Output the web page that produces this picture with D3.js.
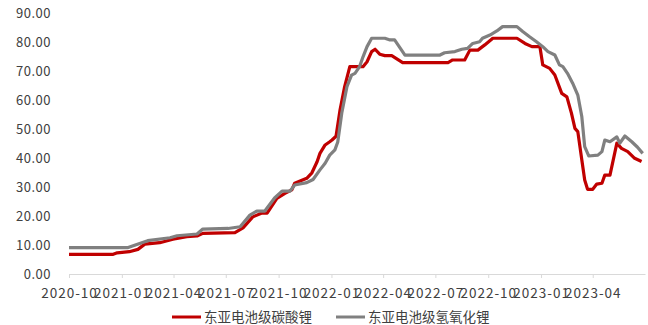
<!DOCTYPE html>
<html>
<head>
<meta charset="utf-8">
<script src="https://cdn.jsdelivr.net/npm/d3@7"></script>
<style>
  html, body { margin: 0; padding: 0; background: #fff; }
  svg { display: block; }
  text { font-family: "Noto Sans CJK SC", "Noto Sans", sans-serif; fill: #404040; }
</style>
</head>
<body>
<svg id="chart" width="648" height="325"></svg>
<script>
// 东亚电池级碳酸锂 price series
const carbonate = [
  ["2020-10-01", 6.8], ["2020-12-17", 6.8], ["2020-12-24", 7.3], ["2021-01-14", 7.7],
  ["2021-01-29", 8.5], ["2021-02-10", 10.3], ["2021-03-08", 10.8], ["2021-03-31", 12.0],
  ["2021-04-24", 12.9], ["2021-05-12", 13.1], ["2021-05-22", 14.0], ["2021-07-17", 14.3],
  ["2021-07-31", 15.9], ["2021-08-17", 19.7], ["2021-09-02", 21.0], ["2021-09-11", 21.0],
  ["2021-09-28", 26.1], ["2021-10-12", 27.8], ["2021-10-24", 29.0], ["2021-10-29", 31.3],
  ["2021-11-19", 33.0], ["2021-11-28", 34.9], ["2021-12-07", 38.7], ["2021-12-12", 41.6],
  ["2021-12-21", 44.5], ["2021-12-29", 45.6], ["2022-01-02", 46.2], ["2022-01-09", 47.5],
  ["2022-01-16", 56.6], ["2022-01-24", 64.6], ["2022-02-02", 71.5], ["2022-02-25", 71.5],
  ["2022-03-04", 73.2], ["2022-03-12", 76.7], ["2022-03-18", 77.5], ["2022-03-26", 75.8],
  ["2022-04-04", 75.3], ["2022-04-16", 75.3], ["2022-05-05", 72.9], ["2022-07-23", 72.9],
  ["2022-07-31", 73.8], ["2022-08-21", 73.8], ["2022-08-30", 77.2], ["2022-09-13", 77.2],
  ["2022-09-25", 79.0], ["2022-10-09", 81.3], ["2022-11-20", 81.3], ["2022-12-04", 79.5],
  ["2022-12-16", 78.4], ["2022-12-30", 78.4], ["2023-01-04", 72.1], ["2023-01-16", 70.9],
  ["2023-01-25", 68.6], ["2023-02-06", 62.3], ["2023-02-15", 61.1], ["2023-02-23", 55.4],
  ["2023-03-01", 50.2], ["2023-03-06", 49.1], ["2023-03-13", 39.3], ["2023-03-18", 32.4],
  ["2023-03-23", 29.2], ["2023-04-01", 29.2], ["2023-04-08", 31.0], ["2023-04-17", 31.3],
  ["2023-04-22", 34.1], ["2023-05-01", 34.1], ["2023-05-13", 45.1], ["2023-05-21", 43.3],
  ["2023-06-01", 42.2], ["2023-06-13", 39.9], ["2023-06-25", 38.8]
];

// 东亚电池级氢氧化锂 price series
const hydroxide = [
  ["2020-10-01", 9.1], ["2021-01-12", 9.1], ["2021-01-27", 10.2], ["2021-02-15", 11.5],
  ["2021-03-26", 12.5], ["2021-04-07", 13.2], ["2021-05-12", 13.8], ["2021-05-22", 15.5],
  ["2021-07-05", 15.7], ["2021-07-26", 16.3], ["2021-08-12", 20.3], ["2021-08-24", 21.7],
  ["2021-09-07", 21.7], ["2021-09-24", 26.2], ["2021-10-07", 28.6], ["2021-10-21", 28.6],
  ["2021-10-29", 30.7], ["2021-11-19", 31.5], ["2021-11-30", 32.6], ["2021-12-12", 35.9],
  ["2021-12-21", 38.2], ["2021-12-29", 41.0], ["2022-01-07", 42.8], ["2022-01-12", 45.5],
  ["2022-01-19", 55.5], ["2022-01-28", 64.6], ["2022-02-05", 68.6], ["2022-02-11", 69.2],
  ["2022-02-19", 71.5], ["2022-02-25", 74.9], ["2022-03-04", 78.4], ["2022-03-12", 81.3],
  ["2022-04-04", 81.3], ["2022-04-13", 80.7], ["2022-04-21", 80.7], ["2022-05-09", 75.5],
  ["2022-07-09", 75.5], ["2022-07-17", 76.3], ["2022-08-04", 76.7], ["2022-08-16", 77.5],
  ["2022-08-26", 77.8], ["2022-09-04", 79.5], ["2022-09-16", 80.1], ["2022-09-21", 81.3],
  ["2022-10-04", 82.4], ["2022-10-16", 83.8], ["2022-10-26", 85.3], ["2022-11-20", 85.3],
  ["2022-11-30", 83.6], ["2022-12-12", 81.8], ["2022-12-24", 80.1], ["2023-01-04", 78.4],
  ["2023-01-13", 76.7], ["2023-01-25", 75.5], ["2023-02-02", 72.1], ["2023-02-08", 71.5],
  ["2023-02-16", 69.2], ["2023-02-25", 65.8], ["2023-03-06", 61.7], ["2023-03-13", 54.2],
  ["2023-03-18", 43.9], ["2023-03-25", 40.7], ["2023-04-10", 41.0], ["2023-04-17", 42.2],
  ["2023-04-22", 46.2], ["2023-05-01", 45.6], ["2023-05-13", 47.3], ["2023-05-18", 45.1],
  ["2023-05-27", 47.6], ["2023-06-08", 45.6], ["2023-06-18", 43.7], ["2023-06-27", 41.6]
];

const seriesNames = ["东亚电池级碳酸锂", "东亚电池级氢氧化锂"];
const seriesColors = ["#C00000", "#808080"];
const yTicks = [0, 10, 20, 30, 40, 50, 60, 70, 80, 90];
const xTickLabels = ["2020-10", "2021-01", "2021-04", "2021-07", "2021-10", "2022-01",
                     "2022-04", "2022-07", "2022-10", "2023-01", "2023-04"];

const parse = d3.timeParse("%Y-%m-%d");
const parseMonth = d3.timeParse("%Y-%m");

const svg = d3.select("#chart");
const plotLeft = 69, plotRight = 645, plotTop = 13, plotBottom = 274;

const x = d3.scaleTime()
  .domain([parse("2020-10-01"), parse("2023-07-01")])
  .range([plotLeft, plotRight]);
const y = d3.scaleLinear().domain([0, 90]).range([plotBottom, plotTop]);

// y axis labels only, no axis line
const yAxis = svg.append("g")
  .attr("transform", `translate(${plotLeft - 6},0)`)
  .call(d3.axisLeft(y).tickValues(yTicks).tickFormat(d3.format(".2f")).tickSize(0).tickPadding(12));
yAxis.select(".domain").remove();
yAxis.selectAll("text").style("font-size", "13px").style("letter-spacing", "0.5px").attr("fill", "#404040");

// x axis: light baseline with quarterly ticks
const xAxis = svg.append("g")
  .attr("transform", `translate(0,${plotBottom})`)
  .call(d3.axisBottom(x)
    .tickValues(xTickLabels.map(parseMonth))
    .tickFormat(d3.timeFormat("%Y-%m"))
    .tickSizeInner(4).tickSizeOuter(0).tickPadding(10));
xAxis.select(".domain").attr("stroke", "#d9d9d9");
xAxis.selectAll(".tick line").attr("stroke", "#d9d9d9");
xAxis.selectAll("text").style("font-size", "13.5px").style("letter-spacing", "1px").attr("fill", "#404040");

const line = d3.line()
  .x(d => x(parse(d[0])))
  .y(d => y(d[1]));

[carbonate, hydroxide].forEach((s, i) => {
  svg.append("path")
    .datum(s)
    .attr("fill", "none")
    .attr("stroke", seriesColors[i])
    .attr("stroke-width", 3.2)
    .attr("stroke-linejoin", "round")
    .attr("d", line);
});

// legend
const legend = svg.append("g").attr("transform", "translate(0,317)");
const legendX = [172, 336];
seriesNames.forEach((name, i) => {
  const g = legend.append("g").attr("transform", `translate(${legendX[i]},0)`);
  g.append("line").attr("x1", 0).attr("x2", 29).attr("y1", 0).attr("y2", 0)
    .attr("stroke", seriesColors[i]).attr("stroke-width", 3);
  g.append("text").attr("x", 32).attr("y", 0).attr("dy", "0.35em")
    .style("font-size", "13.5px").text(name);
});
</script>
</body>
</html>
